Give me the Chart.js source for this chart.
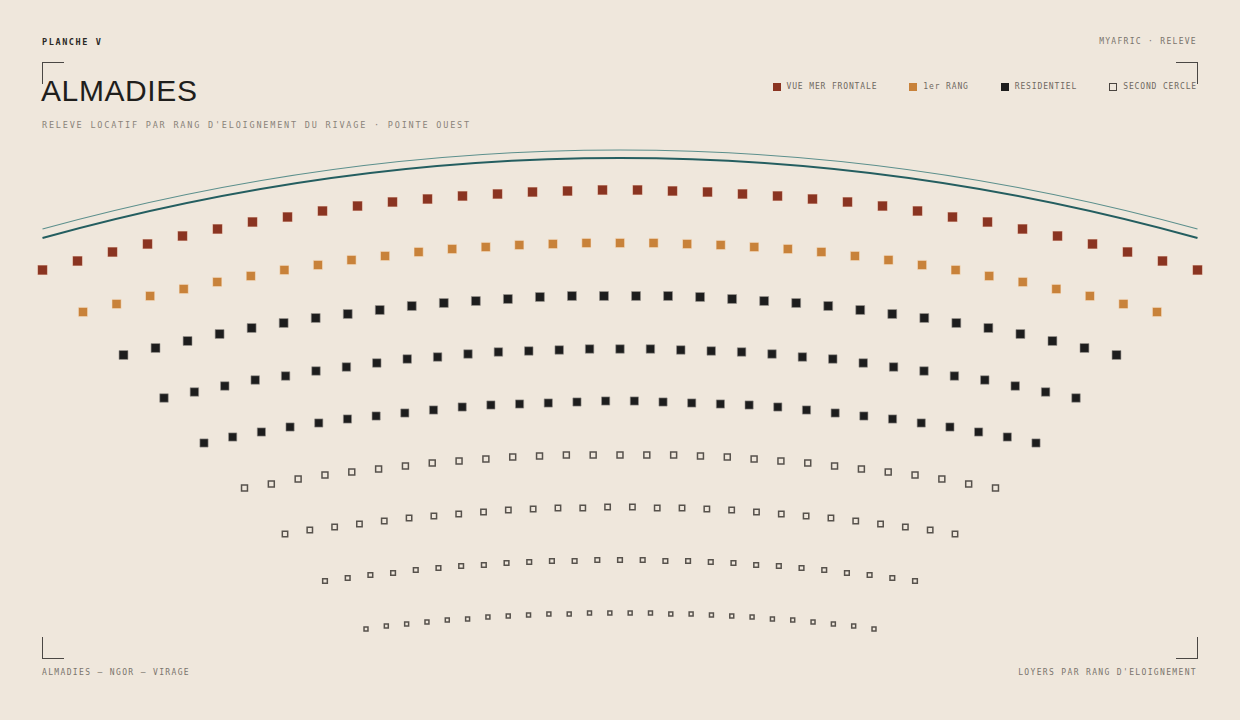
<!DOCTYPE html>
<html>
<head>
<meta charset="utf-8">
<script src="https://cdn.jsdelivr.net/npm/chart.js@4/dist/chart.umd.min.js"></script>
<style>
  html, body { margin: 0; padding: 0; }
  body {
    width: 1240px; height: 720px; position: relative; overflow: hidden;
    background: #efe7dc;
    font-family: "DejaVu Sans Mono", monospace;
  }
  .txt { position: absolute; white-space: nowrap; line-height: 1; }
  #planche { left: 42px; top: 38px; font-size: 8.5px; font-weight: bold; letter-spacing: 1.6px; color: #2a2826; }
  #source { right: 43px; top: 38px; font-size: 8px; letter-spacing: 1.3px; color: #7a746c; }
  #title { left: 41px; top: 76px; font-family: "Liberation Sans", Arial, sans-serif; font-size: 30px; letter-spacing: 0.6px; color: #1f1e1c; }
  #subtitle { left: 42px; top: 121px; font-size: 8.5px; letter-spacing: 1.8px; color: #8a837a; }
  #foot-left { left: 42px; top: 669px; font-size: 8px; letter-spacing: 1.35px; color: #7a746c; }
  #foot-right { right: 43px; top: 669px; font-size: 8px; letter-spacing: 1.35px; color: #7a746c; }
  #legend { position: absolute; right: 43px; top: 82px; display: flex; gap: 32px; }
  .item { display: flex; align-items: center; font-size: 8px; letter-spacing: 0.86px; color: #6f6962; }
  .sw { width: 8px; height: 8px; margin-right: 6px; box-sizing: border-box; }
  .corner { position: absolute; width: 21px; height: 21px; border-color: #4a4744; border-style: solid; border-width: 0; }
  #wrap { position: absolute; left: 0; top: 0; width: 1240px; height: 720px; }
</style>
</head>
<body>
<div class="txt" id="planche">PLANCHE V</div>
<div class="txt" id="source">MYAFRIC · RELEVE</div>
<div class="txt" id="title">ALMADIES</div>
<div class="txt" id="subtitle">RELEVE LOCATIF PAR RANG D'ELOIGNEMENT DU RIVAGE · POINTE OUEST</div>
<div id="legend"></div>
<div class="txt" id="foot-left">ALMADIES — NGOR — VIRAGE</div>
<div class="txt" id="foot-right">LOYERS PAR RANG D'ELOIGNEMENT</div>

<div class="corner" style="left:42px; top:62px; border-left-width:1.5px; border-top-width:1.5px;"></div>
<div class="corner" style="left:1176px; top:62px; border-right-width:1.5px; border-top-width:1.5px;"></div>
<div class="corner" style="left:42px; top:637px; border-left-width:1.5px; border-bottom-width:1.5px;"></div>
<div class="corner" style="left:1176px; top:637px; border-right-width:1.5px; border-bottom-width:1.5px;"></div>

<div id="wrap"><canvas id="chart" width="1240" height="720"></canvas></div>

<script>
// Rangs (du rivage vers l'interieur) et categories de la legende
const categories = ['VUE MER FRONTALE', '1er RANG', 'RESIDENTIEL', 'SECOND CERCLE'];
const rowCategory = [0, 1, 2, 2, 2, 3, 3, 3, 3];

// Loyers releves par lot, d'ouest en est (indice relatif)
const rang1 = [430, 439, 448, 456, 464, 471, 478, 483, 489, 494, 498, 501, 504, 506, 508, 509, 510,
               510, 509, 508, 506, 504, 501, 498, 494, 489, 483, 478, 471, 464, 456, 448, 439, 430];
const rang2 = [388, 396, 404, 411, 418, 424, 430, 435, 440, 444, 448, 451, 453, 455, 456, 457, 457,
               457, 456, 455, 453, 451, 448, 444, 440, 435, 430, 424, 418, 411, 404, 396, 388];
const rang3 = [345, 352, 359, 366, 372, 377, 382, 386, 390, 394, 397, 399, 401, 403, 404, 404,
               404, 404, 403, 401, 399, 397, 394, 390, 386, 382, 377, 372, 366, 359, 352, 345];
const rang4 = [302, 308, 314, 320, 324, 329, 333, 337, 341, 343, 346, 348, 349, 350, 351, 351,
               351, 350, 349, 348, 346, 343, 341, 337, 333, 329, 324, 320, 314, 308, 302];
const rang5 = [257, 263, 268, 273, 277, 281, 284, 287, 290, 293, 295, 296, 297, 298, 299,
               299, 298, 297, 296, 295, 293, 290, 287, 284, 281, 277, 273, 268, 263, 257];
const rang6 = [212, 216, 221, 225, 228, 231, 234, 237, 239, 241, 243, 244, 245, 245, 245,
               245, 245, 244, 243, 241, 239, 237, 234, 231, 228, 225, 221, 216, 212];
const rang7 = [166, 170, 173, 176, 179, 182, 184, 186, 188, 190, 191, 192, 192, 193,
               193, 192, 192, 191, 190, 188, 186, 184, 182, 179, 176, 173, 170, 166];
const rang8 = [119, 122, 125, 127, 130, 132, 134, 135, 137, 138, 139, 139, 140, 140,
               140, 139, 139, 138, 137, 135, 134, 132, 130, 127, 125, 122, 119];
const rang9 = [71, 74, 76, 78, 80, 81, 83, 84, 85, 86, 86, 87, 87,
               87, 87, 86, 86, 85, 84, 83, 81, 80, 78, 76, 74, 71];
const rows = [rang1, rang2, rang3, rang4, rang5, rang6, rang7, rang8, rang9];

// Demi-largeur de chaque rang le long du rivage
const rowSpan = [577.5, 537, 496.5, 456, 416, 375.5, 335, 295, 254];

// Lignes de rivage (extremites et sommet)
const shoreInner = { end: 462, top: 542 };
const shoreOuter = { end: 471, top: 550 };

// Styles par categorie
const fills = ['#8a3421', '#c8823a', '#1d1d1d', 'rgba(0,0,0,0)'];
const edges = ['rgba(250,225,210,0.55)', 'rgba(250,230,205,0.55)', 'rgba(150,145,140,0.6)', '#57524c'];
const sizes = [7, 6.5, 6.3, 6, 5.8, 4.2, 3.8, 3.3, 2.8];

const datasets = rows.map((vals, r) => {
    const n = vals.length;
    const span = rowSpan[r];
    const c = rowCategory[r];
    return {
        label: categories[c],
        data: vals.map((v, i) => ({ x: -span + i * (2 * span / (n - 1)), y: v })),
        pointStyle: 'rect',
        pointRadius: sizes[r],
        pointBackgroundColor: fills[c],
        pointBorderColor: edges[c],
        pointBorderWidth: c === 3 ? 1.5 : 1,
        showLine: false
    };
});

// Arcs du rivage au-dessus des rangs
const shorePlugin = {
    id: 'shore',
    beforeDatasetsDraw(chart) {
        const { ctx, scales: { x, y } } = chart;
        const span = rowSpan[0];
        const draw = (arc, color, width) => {
            ctx.save();
            ctx.beginPath();
            ctx.moveTo(x.getPixelForValue(-span), y.getPixelForValue(arc.end));
            ctx.quadraticCurveTo(x.getPixelForValue(0), y.getPixelForValue(2 * arc.top - arc.end),
                x.getPixelForValue(span), y.getPixelForValue(arc.end));
            ctx.strokeStyle = color;
            ctx.lineWidth = width;
            ctx.stroke();
            ctx.restore();
        };
        draw(shoreOuter, '#5b8f8c', 1.2);
        draw(shoreInner, '#245e60', 2);
    }
};

new Chart(document.getElementById('chart'), {
    type: 'scatter',
    data: { datasets },
    options: {
        responsive: false,
        animation: false,
        devicePixelRatio: 1,
        layout: { autoPadding: false, padding: { top: 0, bottom: 20, left: 0, right: 0 } },
        scales: {
            x: { type: 'linear', min: -620, max: 620, display: false },
            y: { type: 'linear', min: 0, max: 700, display: false }
        },
        plugins: { legend: { display: false }, tooltip: { enabled: false } },
        clip: false
    },
    plugins: [shorePlugin]
});

// Legende
const legend = document.getElementById('legend');
categories.forEach((name, c) => {
    const item = document.createElement('div');
    item.className = 'item';
    const sw = document.createElement('span');
    sw.className = 'sw';
    if (c === 3) {
        sw.style.border = '1.5px solid #4a4540';
    } else {
        sw.style.background = fills[c];
    }
    item.appendChild(sw);
    item.appendChild(document.createTextNode(name));
    legend.appendChild(item);
});
</script>
</body>
</html>
